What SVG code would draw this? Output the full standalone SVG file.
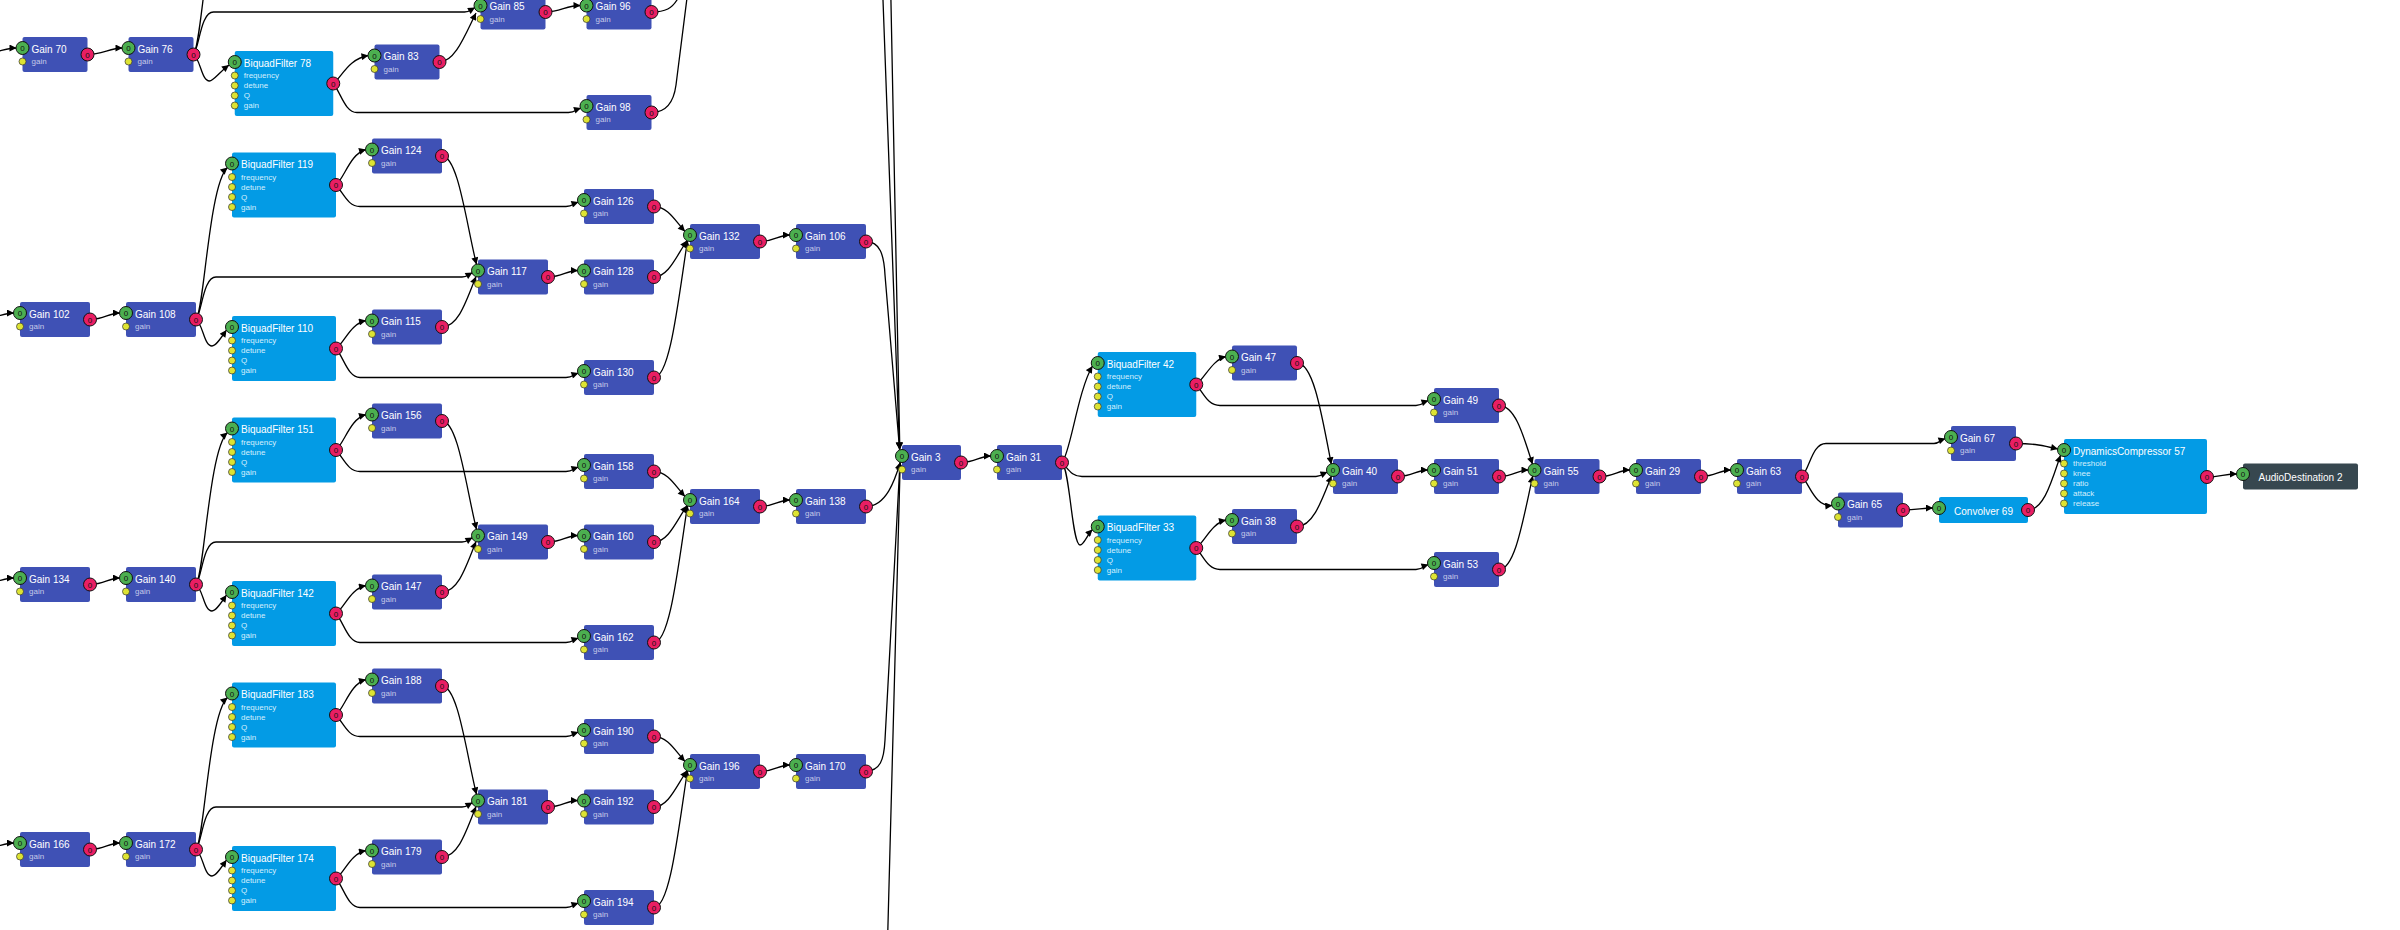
<svg xmlns="http://www.w3.org/2000/svg" width="2400" height="930" viewBox="0 0 2400 930">
<style>
.gn{fill:#3f51b5}
.bq{fill:#039be5}
.ds{fill:#37474f}
.in{fill:#4caf50;stroke:#111;stroke-width:1}
.out{fill:#e91e63;stroke:#111;stroke-width:1}
.pm{fill:#dde333;stroke:#333;stroke-width:0.7}
.t{font-family:"Liberation Sans",Arial,sans-serif;font-size:10px;fill:#fff}
.tc{font-family:"Liberation Sans",Arial,sans-serif;font-size:10px;fill:#fff;text-anchor:middle}
.s{font-family:"Liberation Sans",Arial,sans-serif;font-size:8px;fill:#c5cae9}
.sb{font-family:"Liberation Sans",Arial,sans-serif;font-size:8px;fill:#d4effd}
.n{font-family:"Liberation Sans",Arial,sans-serif;font-size:8px;fill:#111;text-anchor:middle}
#connectors path{fill:none;stroke:#000;stroke-width:1.3;marker-end:url(#ah)}
</style>
<defs>
<marker id="ah" viewBox="0 0 10 10" refX="10" refY="5" markerWidth="9" markerHeight="7" markerUnits="userSpaceOnUse" orient="auto"><path d="M0,0 L10,5 L0,10 z" fill="#000"/></marker>
</defs>
<rect width="2400" height="930" fill="#fff"/>
<g id="connectors">
<g id="edges-group-a">
<path d="M -30,54.5 C -8,54.5 6,48 16.5,48"/>
<path d="M 87.5,54.5 C 102,54.5 110,48 122.5,48"/>
<path d="M 193.5,54.5 C 201.5,47 206.5,-81 225,-97.5"/>
<path d="M 193.5,54.5 C 199.5,47 200.5,12 213.5,12 L 464.5,12 C 469.5,12 471.5,9.5 475,7.5"/>
<path d="M 193.5,54.5 C 200.5,59 201.5,81 209.5,81 C 213.5,81 218.5,73 229,65"/>
<path d="M 333.25,83.5 C 342,77 348,59 368.5,55.5"/>
<path d="M 333.25,83.5 C 341,93 345,112.5 357,112.5 L 568.5,112.5 C 574.5,112.5 576.5,109.5 581,108"/>
<path d="M 439.5,62 C 455,62 465,35 476,13"/>
<path d="M 545.5,12 C 560.5,12 566,5.5 580.5,5.5"/>
<path d="M 651.5,12 C 666,12 672,8 677,0 L 683,-12"/>
<path d="M 651.5,112.5 C 668,112.5 674,100 676,85 L 688,-10"/>
</g>
<g id="edges-group-b" transform="translate(0,302)">
<path d="M -30,17.5 C -8,17.5 4,11 14,11"/>
<path d="M 90,17.5 C 105,17.5 108,11 120,11"/>
<path d="M 196,17.5 C 204,10 209,-118 227.5,-134.5"/>
<path d="M 196,17.5 C 202,10 203,-25 216,-25 L 462,-25 C 467,-25 469,-27.5 472.5,-29.5"/>
<path d="M 196,17.5 C 203,22 204,44 212,44 C 216,44 221,36 226.5,28"/>
<path d="M 336,-117 C 345,-125 350,-148 366,-152.5"/>
<path d="M 336,-117 C 344,-108 348,-95.5 360,-95.5 L 566,-95.5 C 572,-95.5 574,-98.5 578.5,-100"/>
<path d="M 336,46.5 C 345,40 350,22 366,18.5"/>
<path d="M 336,46.5 C 344,56 348,75.5 360,75.5 L 566,75.5 C 572,75.5 574,72.5 578.5,71"/>
<path d="M 442,-146 C 458,-146 466,-80 476.5,-37.5"/>
<path d="M 442,25 C 458,25 466,0 476,-25.5"/>
<path d="M 548,-25 C 563,-25 566,-31.5 578,-31.5"/>
<path d="M 654,-95.5 C 668,-95.5 676,-80 685,-70.5"/>
<path d="M 654,-25 C 668,-25 676,-45 687,-61.5"/>
<path d="M 654,75.5 C 670,75.5 678,0 687.5,-61.5"/>
<path d="M 760,-60.5 C 775,-60.5 778,-67 790,-67"/>
</g>
<g id="edges-group-c" transform="translate(0,567)">
<path d="M -30,17.5 C -8,17.5 4,11 14,11"/>
<path d="M 90,17.5 C 105,17.5 108,11 120,11"/>
<path d="M 196,17.5 C 204,10 209,-118 227.5,-134.5"/>
<path d="M 196,17.5 C 202,10 203,-25 216,-25 L 462,-25 C 467,-25 469,-27.5 472.5,-29.5"/>
<path d="M 196,17.5 C 203,22 204,44 212,44 C 216,44 221,36 226.5,28"/>
<path d="M 336,-117 C 345,-125 350,-148 366,-152.5"/>
<path d="M 336,-117 C 344,-108 348,-95.5 360,-95.5 L 566,-95.5 C 572,-95.5 574,-98.5 578.5,-100"/>
<path d="M 336,46.5 C 345,40 350,22 366,18.5"/>
<path d="M 336,46.5 C 344,56 348,75.5 360,75.5 L 566,75.5 C 572,75.5 574,72.5 578.5,71"/>
<path d="M 442,-146 C 458,-146 466,-80 476.5,-37.5"/>
<path d="M 442,25 C 458,25 466,0 476,-25.5"/>
<path d="M 548,-25 C 563,-25 566,-31.5 578,-31.5"/>
<path d="M 654,-95.5 C 668,-95.5 676,-80 685,-70.5"/>
<path d="M 654,-25 C 668,-25 676,-45 687,-61.5"/>
<path d="M 654,75.5 C 670,75.5 678,0 687.5,-61.5"/>
<path d="M 760,-60.5 C 775,-60.5 778,-67 790,-67"/>
</g>
<g id="edges-group-d" transform="translate(0,832)">
<path d="M -30,17.5 C -8,17.5 4,11 14,11"/>
<path d="M 90,17.5 C 105,17.5 108,11 120,11"/>
<path d="M 196,17.5 C 204,10 209,-118 227.5,-134.5"/>
<path d="M 196,17.5 C 202,10 203,-25 216,-25 L 462,-25 C 467,-25 469,-27.5 472.5,-29.5"/>
<path d="M 196,17.5 C 203,22 204,44 212,44 C 216,44 221,36 226.5,28"/>
<path d="M 336,-117 C 345,-125 350,-148 366,-152.5"/>
<path d="M 336,-117 C 344,-108 348,-95.5 360,-95.5 L 566,-95.5 C 572,-95.5 574,-98.5 578.5,-100"/>
<path d="M 336,46.5 C 345,40 350,22 366,18.5"/>
<path d="M 336,46.5 C 344,56 348,75.5 360,75.5 L 566,75.5 C 572,75.5 574,72.5 578.5,71"/>
<path d="M 442,-146 C 458,-146 466,-80 476.5,-37.5"/>
<path d="M 442,25 C 458,25 466,0 476,-25.5"/>
<path d="M 548,-25 C 563,-25 566,-31.5 578,-31.5"/>
<path d="M 654,-95.5 C 668,-95.5 676,-80 685,-70.5"/>
<path d="M 654,-25 C 668,-25 676,-45 687,-61.5"/>
<path d="M 654,75.5 C 670,75.5 678,0 687.5,-61.5"/>
<path d="M 760,-60.5 C 775,-60.5 778,-67 790,-67"/>
</g>
<g id="edges-merge">
<path d="M 866,-288.5 C 880,-288.5 885,-270 886,-250 L 899.8,449.6"/>
<path d="M 866,-23.5 C 878,-23.5 882,-15 883,0 L 899.5,449.5"/>
<path d="M 866,241.5 C 880,241.5 884,255 885,275 L 899.6,449.5"/>
<path d="M 866,506.5 C 886,506.5 895,480 900.3,462.3"/>
<path d="M 866,771 C 880,771 884,760 885,740 L 900,462.4"/>
<path d="M 866,1036.5 C 880,1036.5 884,1020 886,1000 L 900.2,462.5"/>
</g>
<g id="edges-right">
<path d="M 961,462.5 C 976,462.5 979,456 991,456"/>
<path d="M 1062,462.5 C 1070,455 1078,390 1092.5,366"/>
<path d="M 1062,462.5 C 1069,470 1072,476.5 1082,476.5 L 1316,476.5 C 1321,476.5 1324,473.5 1327.5,472"/>
<path d="M 1062,462.5 C 1070,470 1072,545 1080,545 C 1084,545 1087,535 1092.5,529.5"/>
<path d="M 1196.25,384.5 C 1205,378 1212,360 1226,356.5"/>
<path d="M 1196.25,384.5 C 1204,394 1208,405.5 1220,405.5 L 1416,405.5 C 1422,405.5 1424,402 1428.5,400.5"/>
<path d="M 1196.25,548 C 1205,541 1212,523 1226,520"/>
<path d="M 1196.25,548 C 1204,557 1208,569.5 1220,569.5 L 1416,569.5 C 1422,569.5 1424,566 1428.5,564.5"/>
<path d="M 1297,363 C 1313,363 1321,410 1331.3,464.3"/>
<path d="M 1297,526.5 C 1313,526.5 1322,500 1331.5,475.8"/>
<path d="M 1398,476.5 C 1413,476.5 1416,470 1428,470"/>
<path d="M 1499,405.5 C 1514,405.5 1522,430 1532.5,464.3"/>
<path d="M 1499,476.5 C 1514,476.5 1517,470 1528.5,470"/>
<path d="M 1499,569.5 C 1515,569.5 1523,520 1532.8,475.8"/>
<path d="M 1599.5,476.5 C 1614,476.5 1618,470 1630,470"/>
<path d="M 1701,476.5 C 1716,476.5 1719,470 1731,470"/>
<path d="M 1802,476.5 C 1810,468 1812,443.5 1826,443.5 L 1934,443.5 C 1939,443.5 1941,440 1945.5,438.5"/>
<path d="M 1802,476.5 C 1810,485 1815,507 1832.3,505.5"/>
<path d="M 1903,510 C 1918,510 1921,508 1933,508"/>
<path d="M 2028,510 C 2044,510 2052,480 2060.5,455.3"/>
<path d="M 2016,443.5 C 2035,443.5 2045,446 2058,449"/>
<path d="M 2207,477 C 2220,477 2225,474 2237,474"/>
</g>
</g>
<g id="nodes">
<!-- Group A -->
<g id="gain-70" transform="translate(22.5,37)"><rect class="gn" width="65" height="35" rx="2"/><text class="t" x="9" y="15.5">Gain 70</text><text class="s" x="9" y="27">gain</text><circle class="pm" cy="24.5" r="3.5"/><circle class="in" cy="11" r="6.5"/><text class="n" y="14">0</text><circle class="out" cx="65" cy="17.5" r="6.5"/><text class="n" x="65" y="20.5">0</text></g>
<g id="gain-76" transform="translate(128.5,37)"><rect class="gn" width="65" height="35" rx="2"/><text class="t" x="9" y="15.5">Gain 76</text><text class="s" x="9" y="27">gain</text><circle class="pm" cy="24.5" r="3.5"/><circle class="in" cy="11" r="6.5"/><text class="n" y="14">0</text><circle class="out" cx="65" cy="17.5" r="6.5"/><text class="n" x="65" y="20.5">0</text></g>
<g id="biquadfilter-78" transform="translate(234.75,51)"><rect class="bq" width="98.5" height="65" rx="2"/><text class="t" x="9" y="15.5">BiquadFilter 78</text><text class="sb" x="9" y="27">frequency</text><text class="sb" x="9" y="37">detune</text><text class="sb" x="9" y="47">Q</text><text class="sb" x="9" y="57">gain</text><circle class="pm" cy="24.5" r="3.5"/><circle class="pm" cy="34.5" r="3.5"/><circle class="pm" cy="44.5" r="3.5"/><circle class="pm" cy="54.5" r="3.5"/><circle class="in" cy="11" r="6.5"/><text class="n" y="14">0</text><circle class="out" cx="98.5" cy="32.5" r="6.5"/><text class="n" x="98.5" y="35.5">0</text></g>
<g id="gain-83" transform="translate(374.5,44.5)"><rect class="gn" width="65" height="35" rx="2"/><text class="t" x="9" y="15.5">Gain 83</text><text class="s" x="9" y="27">gain</text><circle class="pm" cy="24.5" r="3.5"/><circle class="in" cy="11" r="6.5"/><text class="n" y="14">0</text><circle class="out" cx="65" cy="17.5" r="6.5"/><text class="n" x="65" y="20.5">0</text></g>
<g id="gain-85" transform="translate(480.5,-5.5)"><rect class="gn" width="65" height="35" rx="2"/><text class="t" x="9" y="15.5">Gain 85</text><text class="s" x="9" y="27">gain</text><circle class="pm" cy="24.5" r="3.5"/><circle class="in" cy="11" r="6.5"/><text class="n" y="14">0</text><circle class="out" cx="65" cy="17.5" r="6.5"/><text class="n" x="65" y="20.5">0</text></g>
<g id="gain-96" transform="translate(586.5,-5.5)"><rect class="gn" width="65" height="35" rx="2"/><text class="t" x="9" y="15.5">Gain 96</text><text class="s" x="9" y="27">gain</text><circle class="pm" cy="24.5" r="3.5"/><circle class="in" cy="11" r="6.5"/><text class="n" y="14">0</text><circle class="out" cx="65" cy="17.5" r="6.5"/><text class="n" x="65" y="20.5">0</text></g>
<g id="gain-98" transform="translate(586.5,95)"><rect class="gn" width="65" height="35" rx="2"/><text class="t" x="9" y="15.5">Gain 98</text><text class="s" x="9" y="27">gain</text><circle class="pm" cy="24.5" r="3.5"/><circle class="in" cy="11" r="6.5"/><text class="n" y="14">0</text><circle class="out" cx="65" cy="17.5" r="6.5"/><text class="n" x="65" y="20.5">0</text></g>
<!-- Group B -->
<g id="gain-102" transform="translate(20,302)"><rect class="gn" width="70" height="35" rx="2"/><text class="t" x="9" y="15.5">Gain 102</text><text class="s" x="9" y="27">gain</text><circle class="pm" cy="24.5" r="3.5"/><circle class="in" cy="11" r="6.5"/><text class="n" y="14">0</text><circle class="out" cx="70" cy="17.5" r="6.5"/><text class="n" x="70" y="20.5">0</text></g>
<g id="gain-108" transform="translate(126,302)"><rect class="gn" width="70" height="35" rx="2"/><text class="t" x="9" y="15.5">Gain 108</text><text class="s" x="9" y="27">gain</text><circle class="pm" cy="24.5" r="3.5"/><circle class="in" cy="11" r="6.5"/><text class="n" y="14">0</text><circle class="out" cx="70" cy="17.5" r="6.5"/><text class="n" x="70" y="20.5">0</text></g>
<g id="biquadfilter-119" transform="translate(232,152.5)"><rect class="bq" width="104" height="65" rx="2"/><text class="t" x="9" y="15.5">BiquadFilter 119</text><text class="sb" x="9" y="27">frequency</text><text class="sb" x="9" y="37">detune</text><text class="sb" x="9" y="47">Q</text><text class="sb" x="9" y="57">gain</text><circle class="pm" cy="24.5" r="3.5"/><circle class="pm" cy="34.5" r="3.5"/><circle class="pm" cy="44.5" r="3.5"/><circle class="pm" cy="54.5" r="3.5"/><circle class="in" cy="11" r="6.5"/><text class="n" y="14">0</text><circle class="out" cx="104" cy="32.5" r="6.5"/><text class="n" x="104" y="35.5">0</text></g>
<g id="biquadfilter-110" transform="translate(232,316)"><rect class="bq" width="104" height="65" rx="2"/><text class="t" x="9" y="15.5">BiquadFilter 110</text><text class="sb" x="9" y="27">frequency</text><text class="sb" x="9" y="37">detune</text><text class="sb" x="9" y="47">Q</text><text class="sb" x="9" y="57">gain</text><circle class="pm" cy="24.5" r="3.5"/><circle class="pm" cy="34.5" r="3.5"/><circle class="pm" cy="44.5" r="3.5"/><circle class="pm" cy="54.5" r="3.5"/><circle class="in" cy="11" r="6.5"/><text class="n" y="14">0</text><circle class="out" cx="104" cy="32.5" r="6.5"/><text class="n" x="104" y="35.5">0</text></g>
<g id="gain-124" transform="translate(372,138.5)"><rect class="gn" width="70" height="35" rx="2"/><text class="t" x="9" y="15.5">Gain 124</text><text class="s" x="9" y="27">gain</text><circle class="pm" cy="24.5" r="3.5"/><circle class="in" cy="11" r="6.5"/><text class="n" y="14">0</text><circle class="out" cx="70" cy="17.5" r="6.5"/><text class="n" x="70" y="20.5">0</text></g>
<g id="gain-115" transform="translate(372,309.5)"><rect class="gn" width="70" height="35" rx="2"/><text class="t" x="9" y="15.5">Gain 115</text><text class="s" x="9" y="27">gain</text><circle class="pm" cy="24.5" r="3.5"/><circle class="in" cy="11" r="6.5"/><text class="n" y="14">0</text><circle class="out" cx="70" cy="17.5" r="6.5"/><text class="n" x="70" y="20.5">0</text></g>
<g id="gain-117" transform="translate(478,259.5)"><rect class="gn" width="70" height="35" rx="2"/><text class="t" x="9" y="15.5">Gain 117</text><text class="s" x="9" y="27">gain</text><circle class="pm" cy="24.5" r="3.5"/><circle class="in" cy="11" r="6.5"/><text class="n" y="14">0</text><circle class="out" cx="70" cy="17.5" r="6.5"/><text class="n" x="70" y="20.5">0</text></g>
<g id="gain-126" transform="translate(584,189)"><rect class="gn" width="70" height="35" rx="2"/><text class="t" x="9" y="15.5">Gain 126</text><text class="s" x="9" y="27">gain</text><circle class="pm" cy="24.5" r="3.5"/><circle class="in" cy="11" r="6.5"/><text class="n" y="14">0</text><circle class="out" cx="70" cy="17.5" r="6.5"/><text class="n" x="70" y="20.5">0</text></g>
<g id="gain-128" transform="translate(584,259.5)"><rect class="gn" width="70" height="35" rx="2"/><text class="t" x="9" y="15.5">Gain 128</text><text class="s" x="9" y="27">gain</text><circle class="pm" cy="24.5" r="3.5"/><circle class="in" cy="11" r="6.5"/><text class="n" y="14">0</text><circle class="out" cx="70" cy="17.5" r="6.5"/><text class="n" x="70" y="20.5">0</text></g>
<g id="gain-130" transform="translate(584,360)"><rect class="gn" width="70" height="35" rx="2"/><text class="t" x="9" y="15.5">Gain 130</text><text class="s" x="9" y="27">gain</text><circle class="pm" cy="24.5" r="3.5"/><circle class="in" cy="11" r="6.5"/><text class="n" y="14">0</text><circle class="out" cx="70" cy="17.5" r="6.5"/><text class="n" x="70" y="20.5">0</text></g>
<g id="gain-132" transform="translate(690,224)"><rect class="gn" width="70" height="35" rx="2"/><text class="t" x="9" y="15.5">Gain 132</text><text class="s" x="9" y="27">gain</text><circle class="pm" cy="24.5" r="3.5"/><circle class="in" cy="11" r="6.5"/><text class="n" y="14">0</text><circle class="out" cx="70" cy="17.5" r="6.5"/><text class="n" x="70" y="20.5">0</text></g>
<g id="gain-106" transform="translate(796,224)"><rect class="gn" width="70" height="35" rx="2"/><text class="t" x="9" y="15.5">Gain 106</text><text class="s" x="9" y="27">gain</text><circle class="pm" cy="24.5" r="3.5"/><circle class="in" cy="11" r="6.5"/><text class="n" y="14">0</text><circle class="out" cx="70" cy="17.5" r="6.5"/><text class="n" x="70" y="20.5">0</text></g>
<!-- Group C -->
<g id="gain-134" transform="translate(20,567)"><rect class="gn" width="70" height="35" rx="2"/><text class="t" x="9" y="15.5">Gain 134</text><text class="s" x="9" y="27">gain</text><circle class="pm" cy="24.5" r="3.5"/><circle class="in" cy="11" r="6.5"/><text class="n" y="14">0</text><circle class="out" cx="70" cy="17.5" r="6.5"/><text class="n" x="70" y="20.5">0</text></g>
<g id="gain-140" transform="translate(126,567)"><rect class="gn" width="70" height="35" rx="2"/><text class="t" x="9" y="15.5">Gain 140</text><text class="s" x="9" y="27">gain</text><circle class="pm" cy="24.5" r="3.5"/><circle class="in" cy="11" r="6.5"/><text class="n" y="14">0</text><circle class="out" cx="70" cy="17.5" r="6.5"/><text class="n" x="70" y="20.5">0</text></g>
<g id="biquadfilter-151" transform="translate(232,417.5)"><rect class="bq" width="104" height="65" rx="2"/><text class="t" x="9" y="15.5">BiquadFilter 151</text><text class="sb" x="9" y="27">frequency</text><text class="sb" x="9" y="37">detune</text><text class="sb" x="9" y="47">Q</text><text class="sb" x="9" y="57">gain</text><circle class="pm" cy="24.5" r="3.5"/><circle class="pm" cy="34.5" r="3.5"/><circle class="pm" cy="44.5" r="3.5"/><circle class="pm" cy="54.5" r="3.5"/><circle class="in" cy="11" r="6.5"/><text class="n" y="14">0</text><circle class="out" cx="104" cy="32.5" r="6.5"/><text class="n" x="104" y="35.5">0</text></g>
<g id="biquadfilter-142" transform="translate(232,581)"><rect class="bq" width="104" height="65" rx="2"/><text class="t" x="9" y="15.5">BiquadFilter 142</text><text class="sb" x="9" y="27">frequency</text><text class="sb" x="9" y="37">detune</text><text class="sb" x="9" y="47">Q</text><text class="sb" x="9" y="57">gain</text><circle class="pm" cy="24.5" r="3.5"/><circle class="pm" cy="34.5" r="3.5"/><circle class="pm" cy="44.5" r="3.5"/><circle class="pm" cy="54.5" r="3.5"/><circle class="in" cy="11" r="6.5"/><text class="n" y="14">0</text><circle class="out" cx="104" cy="32.5" r="6.5"/><text class="n" x="104" y="35.5">0</text></g>
<g id="gain-156" transform="translate(372,403.5)"><rect class="gn" width="70" height="35" rx="2"/><text class="t" x="9" y="15.5">Gain 156</text><text class="s" x="9" y="27">gain</text><circle class="pm" cy="24.5" r="3.5"/><circle class="in" cy="11" r="6.5"/><text class="n" y="14">0</text><circle class="out" cx="70" cy="17.5" r="6.5"/><text class="n" x="70" y="20.5">0</text></g>
<g id="gain-147" transform="translate(372,574.5)"><rect class="gn" width="70" height="35" rx="2"/><text class="t" x="9" y="15.5">Gain 147</text><text class="s" x="9" y="27">gain</text><circle class="pm" cy="24.5" r="3.5"/><circle class="in" cy="11" r="6.5"/><text class="n" y="14">0</text><circle class="out" cx="70" cy="17.5" r="6.5"/><text class="n" x="70" y="20.5">0</text></g>
<g id="gain-149" transform="translate(478,524.5)"><rect class="gn" width="70" height="35" rx="2"/><text class="t" x="9" y="15.5">Gain 149</text><text class="s" x="9" y="27">gain</text><circle class="pm" cy="24.5" r="3.5"/><circle class="in" cy="11" r="6.5"/><text class="n" y="14">0</text><circle class="out" cx="70" cy="17.5" r="6.5"/><text class="n" x="70" y="20.5">0</text></g>
<g id="gain-158" transform="translate(584,454)"><rect class="gn" width="70" height="35" rx="2"/><text class="t" x="9" y="15.5">Gain 158</text><text class="s" x="9" y="27">gain</text><circle class="pm" cy="24.5" r="3.5"/><circle class="in" cy="11" r="6.5"/><text class="n" y="14">0</text><circle class="out" cx="70" cy="17.5" r="6.5"/><text class="n" x="70" y="20.5">0</text></g>
<g id="gain-160" transform="translate(584,524.5)"><rect class="gn" width="70" height="35" rx="2"/><text class="t" x="9" y="15.5">Gain 160</text><text class="s" x="9" y="27">gain</text><circle class="pm" cy="24.5" r="3.5"/><circle class="in" cy="11" r="6.5"/><text class="n" y="14">0</text><circle class="out" cx="70" cy="17.5" r="6.5"/><text class="n" x="70" y="20.5">0</text></g>
<g id="gain-162" transform="translate(584,625)"><rect class="gn" width="70" height="35" rx="2"/><text class="t" x="9" y="15.5">Gain 162</text><text class="s" x="9" y="27">gain</text><circle class="pm" cy="24.5" r="3.5"/><circle class="in" cy="11" r="6.5"/><text class="n" y="14">0</text><circle class="out" cx="70" cy="17.5" r="6.5"/><text class="n" x="70" y="20.5">0</text></g>
<g id="gain-164" transform="translate(690,489)"><rect class="gn" width="70" height="35" rx="2"/><text class="t" x="9" y="15.5">Gain 164</text><text class="s" x="9" y="27">gain</text><circle class="pm" cy="24.5" r="3.5"/><circle class="in" cy="11" r="6.5"/><text class="n" y="14">0</text><circle class="out" cx="70" cy="17.5" r="6.5"/><text class="n" x="70" y="20.5">0</text></g>
<g id="gain-138" transform="translate(796,489)"><rect class="gn" width="70" height="35" rx="2"/><text class="t" x="9" y="15.5">Gain 138</text><text class="s" x="9" y="27">gain</text><circle class="pm" cy="24.5" r="3.5"/><circle class="in" cy="11" r="6.5"/><text class="n" y="14">0</text><circle class="out" cx="70" cy="17.5" r="6.5"/><text class="n" x="70" y="20.5">0</text></g>
<!-- Group D -->
<g id="gain-166" transform="translate(20,832)"><rect class="gn" width="70" height="35" rx="2"/><text class="t" x="9" y="15.5">Gain 166</text><text class="s" x="9" y="27">gain</text><circle class="pm" cy="24.5" r="3.5"/><circle class="in" cy="11" r="6.5"/><text class="n" y="14">0</text><circle class="out" cx="70" cy="17.5" r="6.5"/><text class="n" x="70" y="20.5">0</text></g>
<g id="gain-172" transform="translate(126,832)"><rect class="gn" width="70" height="35" rx="2"/><text class="t" x="9" y="15.5">Gain 172</text><text class="s" x="9" y="27">gain</text><circle class="pm" cy="24.5" r="3.5"/><circle class="in" cy="11" r="6.5"/><text class="n" y="14">0</text><circle class="out" cx="70" cy="17.5" r="6.5"/><text class="n" x="70" y="20.5">0</text></g>
<g id="biquadfilter-183" transform="translate(232,682.5)"><rect class="bq" width="104" height="65" rx="2"/><text class="t" x="9" y="15.5">BiquadFilter 183</text><text class="sb" x="9" y="27">frequency</text><text class="sb" x="9" y="37">detune</text><text class="sb" x="9" y="47">Q</text><text class="sb" x="9" y="57">gain</text><circle class="pm" cy="24.5" r="3.5"/><circle class="pm" cy="34.5" r="3.5"/><circle class="pm" cy="44.5" r="3.5"/><circle class="pm" cy="54.5" r="3.5"/><circle class="in" cy="11" r="6.5"/><text class="n" y="14">0</text><circle class="out" cx="104" cy="32.5" r="6.5"/><text class="n" x="104" y="35.5">0</text></g>
<g id="biquadfilter-174" transform="translate(232,846)"><rect class="bq" width="104" height="65" rx="2"/><text class="t" x="9" y="15.5">BiquadFilter 174</text><text class="sb" x="9" y="27">frequency</text><text class="sb" x="9" y="37">detune</text><text class="sb" x="9" y="47">Q</text><text class="sb" x="9" y="57">gain</text><circle class="pm" cy="24.5" r="3.5"/><circle class="pm" cy="34.5" r="3.5"/><circle class="pm" cy="44.5" r="3.5"/><circle class="pm" cy="54.5" r="3.5"/><circle class="in" cy="11" r="6.5"/><text class="n" y="14">0</text><circle class="out" cx="104" cy="32.5" r="6.5"/><text class="n" x="104" y="35.5">0</text></g>
<g id="gain-188" transform="translate(372,668.5)"><rect class="gn" width="70" height="35" rx="2"/><text class="t" x="9" y="15.5">Gain 188</text><text class="s" x="9" y="27">gain</text><circle class="pm" cy="24.5" r="3.5"/><circle class="in" cy="11" r="6.5"/><text class="n" y="14">0</text><circle class="out" cx="70" cy="17.5" r="6.5"/><text class="n" x="70" y="20.5">0</text></g>
<g id="gain-179" transform="translate(372,839.5)"><rect class="gn" width="70" height="35" rx="2"/><text class="t" x="9" y="15.5">Gain 179</text><text class="s" x="9" y="27">gain</text><circle class="pm" cy="24.5" r="3.5"/><circle class="in" cy="11" r="6.5"/><text class="n" y="14">0</text><circle class="out" cx="70" cy="17.5" r="6.5"/><text class="n" x="70" y="20.5">0</text></g>
<g id="gain-181" transform="translate(478,789.5)"><rect class="gn" width="70" height="35" rx="2"/><text class="t" x="9" y="15.5">Gain 181</text><text class="s" x="9" y="27">gain</text><circle class="pm" cy="24.5" r="3.5"/><circle class="in" cy="11" r="6.5"/><text class="n" y="14">0</text><circle class="out" cx="70" cy="17.5" r="6.5"/><text class="n" x="70" y="20.5">0</text></g>
<g id="gain-190" transform="translate(584,719)"><rect class="gn" width="70" height="35" rx="2"/><text class="t" x="9" y="15.5">Gain 190</text><text class="s" x="9" y="27">gain</text><circle class="pm" cy="24.5" r="3.5"/><circle class="in" cy="11" r="6.5"/><text class="n" y="14">0</text><circle class="out" cx="70" cy="17.5" r="6.5"/><text class="n" x="70" y="20.5">0</text></g>
<g id="gain-192" transform="translate(584,789.5)"><rect class="gn" width="70" height="35" rx="2"/><text class="t" x="9" y="15.5">Gain 192</text><text class="s" x="9" y="27">gain</text><circle class="pm" cy="24.5" r="3.5"/><circle class="in" cy="11" r="6.5"/><text class="n" y="14">0</text><circle class="out" cx="70" cy="17.5" r="6.5"/><text class="n" x="70" y="20.5">0</text></g>
<g id="gain-194" transform="translate(584,890)"><rect class="gn" width="70" height="35" rx="2"/><text class="t" x="9" y="15.5">Gain 194</text><text class="s" x="9" y="27">gain</text><circle class="pm" cy="24.5" r="3.5"/><circle class="in" cy="11" r="6.5"/><text class="n" y="14">0</text><circle class="out" cx="70" cy="17.5" r="6.5"/><text class="n" x="70" y="20.5">0</text></g>
<g id="gain-196" transform="translate(690,754)"><rect class="gn" width="70" height="35" rx="2"/><text class="t" x="9" y="15.5">Gain 196</text><text class="s" x="9" y="27">gain</text><circle class="pm" cy="24.5" r="3.5"/><circle class="in" cy="11" r="6.5"/><text class="n" y="14">0</text><circle class="out" cx="70" cy="17.5" r="6.5"/><text class="n" x="70" y="20.5">0</text></g>
<g id="gain-170" transform="translate(796,754)"><rect class="gn" width="70" height="35" rx="2"/><text class="t" x="9" y="15.5">Gain 170</text><text class="s" x="9" y="27">gain</text><circle class="pm" cy="24.5" r="3.5"/><circle class="in" cy="11" r="6.5"/><text class="n" y="14">0</text><circle class="out" cx="70" cy="17.5" r="6.5"/><text class="n" x="70" y="20.5">0</text></g>
<!-- Right section -->
<g id="gain-3" transform="translate(902,445)"><rect class="gn" width="59" height="35" rx="2"/><text class="t" x="9" y="15.5">Gain 3</text><text class="s" x="9" y="27">gain</text><circle class="pm" cy="24.5" r="3.5"/><circle class="in" cy="11" r="6.5"/><text class="n" y="14">0</text><circle class="out" cx="59" cy="17.5" r="6.5"/><text class="n" x="59" y="20.5">0</text></g>
<g id="gain-31" transform="translate(997,445)"><rect class="gn" width="65" height="35" rx="2"/><text class="t" x="9" y="15.5">Gain 31</text><text class="s" x="9" y="27">gain</text><circle class="pm" cy="24.5" r="3.5"/><circle class="in" cy="11" r="6.5"/><text class="n" y="14">0</text><circle class="out" cx="65" cy="17.5" r="6.5"/><text class="n" x="65" y="20.5">0</text></g>
<g id="biquadfilter-42" transform="translate(1097.75,352)"><rect class="bq" width="98.5" height="65" rx="2"/><text class="t" x="9" y="15.5">BiquadFilter 42</text><text class="sb" x="9" y="27">frequency</text><text class="sb" x="9" y="37">detune</text><text class="sb" x="9" y="47">Q</text><text class="sb" x="9" y="57">gain</text><circle class="pm" cy="24.5" r="3.5"/><circle class="pm" cy="34.5" r="3.5"/><circle class="pm" cy="44.5" r="3.5"/><circle class="pm" cy="54.5" r="3.5"/><circle class="in" cy="11" r="6.5"/><text class="n" y="14">0</text><circle class="out" cx="98.5" cy="32.5" r="6.5"/><text class="n" x="98.5" y="35.5">0</text></g>
<g id="biquadfilter-33" transform="translate(1097.75,515.5)"><rect class="bq" width="98.5" height="65" rx="2"/><text class="t" x="9" y="15.5">BiquadFilter 33</text><text class="sb" x="9" y="27">frequency</text><text class="sb" x="9" y="37">detune</text><text class="sb" x="9" y="47">Q</text><text class="sb" x="9" y="57">gain</text><circle class="pm" cy="24.5" r="3.5"/><circle class="pm" cy="34.5" r="3.5"/><circle class="pm" cy="44.5" r="3.5"/><circle class="pm" cy="54.5" r="3.5"/><circle class="in" cy="11" r="6.5"/><text class="n" y="14">0</text><circle class="out" cx="98.5" cy="32.5" r="6.5"/><text class="n" x="98.5" y="35.5">0</text></g>
<g id="gain-47" transform="translate(1232,345.5)"><rect class="gn" width="65" height="35" rx="2"/><text class="t" x="9" y="15.5">Gain 47</text><text class="s" x="9" y="27">gain</text><circle class="pm" cy="24.5" r="3.5"/><circle class="in" cy="11" r="6.5"/><text class="n" y="14">0</text><circle class="out" cx="65" cy="17.5" r="6.5"/><text class="n" x="65" y="20.5">0</text></g>
<g id="gain-38" transform="translate(1232,509)"><rect class="gn" width="65" height="35" rx="2"/><text class="t" x="9" y="15.5">Gain 38</text><text class="s" x="9" y="27">gain</text><circle class="pm" cy="24.5" r="3.5"/><circle class="in" cy="11" r="6.5"/><text class="n" y="14">0</text><circle class="out" cx="65" cy="17.5" r="6.5"/><text class="n" x="65" y="20.5">0</text></g>
<g id="gain-40" transform="translate(1333,459)"><rect class="gn" width="65" height="35" rx="2"/><text class="t" x="9" y="15.5">Gain 40</text><text class="s" x="9" y="27">gain</text><circle class="pm" cy="24.5" r="3.5"/><circle class="in" cy="11" r="6.5"/><text class="n" y="14">0</text><circle class="out" cx="65" cy="17.5" r="6.5"/><text class="n" x="65" y="20.5">0</text></g>
<g id="gain-49" transform="translate(1434,388)"><rect class="gn" width="65" height="35" rx="2"/><text class="t" x="9" y="15.5">Gain 49</text><text class="s" x="9" y="27">gain</text><circle class="pm" cy="24.5" r="3.5"/><circle class="in" cy="11" r="6.5"/><text class="n" y="14">0</text><circle class="out" cx="65" cy="17.5" r="6.5"/><text class="n" x="65" y="20.5">0</text></g>
<g id="gain-51" transform="translate(1434,459)"><rect class="gn" width="65" height="35" rx="2"/><text class="t" x="9" y="15.5">Gain 51</text><text class="s" x="9" y="27">gain</text><circle class="pm" cy="24.5" r="3.5"/><circle class="in" cy="11" r="6.5"/><text class="n" y="14">0</text><circle class="out" cx="65" cy="17.5" r="6.5"/><text class="n" x="65" y="20.5">0</text></g>
<g id="gain-53" transform="translate(1434,552)"><rect class="gn" width="65" height="35" rx="2"/><text class="t" x="9" y="15.5">Gain 53</text><text class="s" x="9" y="27">gain</text><circle class="pm" cy="24.5" r="3.5"/><circle class="in" cy="11" r="6.5"/><text class="n" y="14">0</text><circle class="out" cx="65" cy="17.5" r="6.5"/><text class="n" x="65" y="20.5">0</text></g>
<g id="gain-55" transform="translate(1534.5,459)"><rect class="gn" width="65" height="35" rx="2"/><text class="t" x="9" y="15.5">Gain 55</text><text class="s" x="9" y="27">gain</text><circle class="pm" cy="24.5" r="3.5"/><circle class="in" cy="11" r="6.5"/><text class="n" y="14">0</text><circle class="out" cx="65" cy="17.5" r="6.5"/><text class="n" x="65" y="20.5">0</text></g>
<g id="gain-29" transform="translate(1636,459)"><rect class="gn" width="65" height="35" rx="2"/><text class="t" x="9" y="15.5">Gain 29</text><text class="s" x="9" y="27">gain</text><circle class="pm" cy="24.5" r="3.5"/><circle class="in" cy="11" r="6.5"/><text class="n" y="14">0</text><circle class="out" cx="65" cy="17.5" r="6.5"/><text class="n" x="65" y="20.5">0</text></g>
<g id="gain-63" transform="translate(1737,459)"><rect class="gn" width="65" height="35" rx="2"/><text class="t" x="9" y="15.5">Gain 63</text><text class="s" x="9" y="27">gain</text><circle class="pm" cy="24.5" r="3.5"/><circle class="in" cy="11" r="6.5"/><text class="n" y="14">0</text><circle class="out" cx="65" cy="17.5" r="6.5"/><text class="n" x="65" y="20.5">0</text></g>
<g id="gain-65" transform="translate(1838,492.5)"><rect class="gn" width="65" height="35" rx="2"/><text class="t" x="9" y="15.5">Gain 65</text><text class="s" x="9" y="27">gain</text><circle class="pm" cy="24.5" r="3.5"/><circle class="in" cy="11" r="6.5"/><text class="n" y="14">0</text><circle class="out" cx="65" cy="17.5" r="6.5"/><text class="n" x="65" y="20.5">0</text></g>
<g id="gain-67" transform="translate(1951,426)"><rect class="gn" width="65" height="35" rx="2"/><text class="t" x="9" y="15.5">Gain 67</text><text class="s" x="9" y="27">gain</text><circle class="pm" cy="24.5" r="3.5"/><circle class="in" cy="11" r="6.5"/><text class="n" y="14">0</text><circle class="out" cx="65" cy="17.5" r="6.5"/><text class="n" x="65" y="20.5">0</text></g>
<g id="convolver-69" transform="translate(1939,497)"><rect class="bq" width="89" height="26" rx="2"/><text class="tc" x="44.5" y="17.5">Convolver 69</text><circle class="in" cy="11" r="6.5"/><text class="n" y="14">0</text><circle class="out" cx="89" cy="13" r="6.5"/><text class="n" x="89" y="16">0</text></g>
<g id="dynamicscompressor-57" transform="translate(2064,439)"><rect class="bq" width="143" height="75" rx="2"/><text class="t" x="9" y="15.5">DynamicsCompressor 57</text><text class="sb" x="9" y="27">threshold</text><text class="sb" x="9" y="37">knee</text><text class="sb" x="9" y="47">ratio</text><text class="sb" x="9" y="57">attack</text><text class="sb" x="9" y="67">release</text><circle class="pm" cy="24.5" r="3.5"/><circle class="pm" cy="34.5" r="3.5"/><circle class="pm" cy="44.5" r="3.5"/><circle class="pm" cy="54.5" r="3.5"/><circle class="pm" cy="64.5" r="3.5"/><circle class="in" cy="11" r="6.5"/><text class="n" y="14">0</text><circle class="out" cx="143" cy="38" r="6.5"/><text class="n" x="143" y="41">0</text></g>
<g id="audiodestination-2" transform="translate(2243,463.5)"><rect class="ds" width="115" height="26" rx="2"/><text class="tc" x="57.5" y="17.5">AudioDestination 2</text><circle class="in" cy="10.5" r="6.5"/><text class="n" y="13.5">0</text></g>
</g>
</svg>
